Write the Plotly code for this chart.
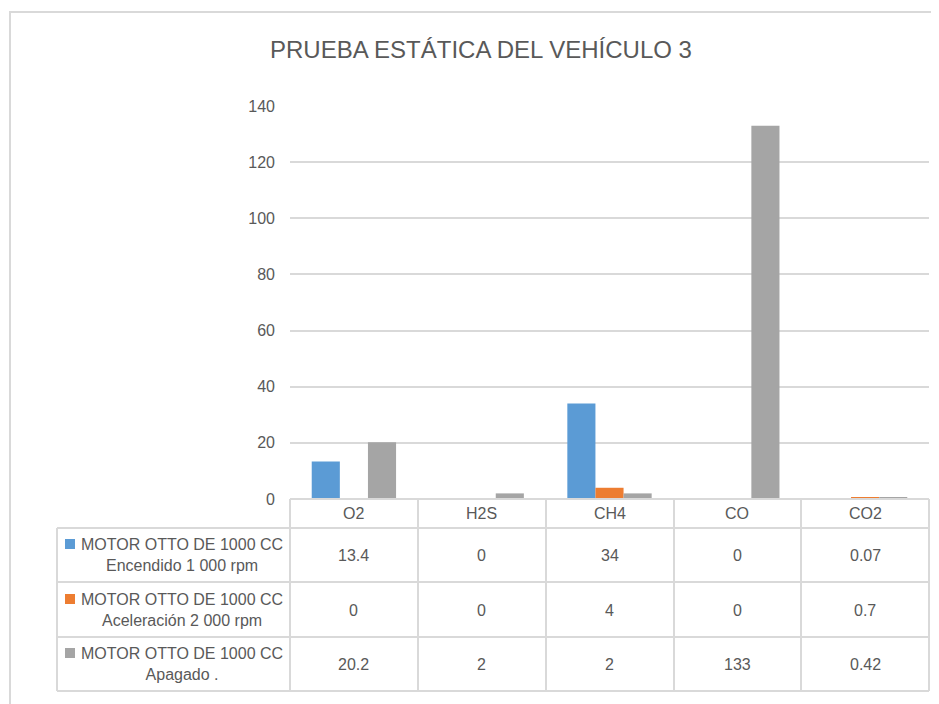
import plotly.graph_objects as go

# Data -
gases = ["O2", "H2S", "CH4", "CO", "CO2"]
series_names = [
    "MOTOR OTTO DE 1000 CC<br>Encendido 1 000 rpm",
    "MOTOR OTTO DE 1000 CC<br>Aceleración 2 000 rpm",
    "MOTOR OTTO DE 1000 CC<br>Apagado .",
]
encendido = [13.4, 0, 34, 0, 0.07]
aceleracion = [0, 0, 4, 0, 0.7]
apagado = [20.2, 2, 2, 133, 0.42]
colors = ["#5B9BD5", "#ED7D31", "#A5A5A5"]
y_ticks = [0, 20, 40, 60, 80, 100, 120, 140]

W, H = 939, 704
OFF = 8  # page body margin
FONT = "Liberation Sans"
TXT = "#595959"
LINE = "#D9D9D9"


def px(x):
    return (x - OFF) / W


def py(y):
    return 1 - (y - OFF) / H


fig = go.Figure()
for name, vals, c in zip(series_names, [encendido, aceleracion, apagado], colors):
    fig.add_trace(go.Bar(x=gases, y=vals, name=name, marker=dict(color=c, line=dict(width=0))))

# table geometry (screen pixels)
plot_l, plot_r = 290, 929
tab_l = 57
row_lines = [528, 582, 637, 691]
col_lines = [290, 418, 546, 674, 801, 929]


def hline(x0, x1, y):
    return dict(type="line", xref="paper", yref="paper", x0=px(x0), x1=px(x1), y0=py(y), y1=py(y),
                line=dict(color=LINE, width=2))


def vline(x, y0, y1):
    return dict(type="line", xref="paper", yref="paper", x0=px(x), x1=px(x), y0=py(y0), y1=py(y1),
                line=dict(color=LINE, width=2))


shapes = []
# outer chart border
shapes.append(dict(type="rect", xref="paper", yref="paper", x0=px(10), x1=px(990), y0=py(12), y1=py(760),
                   line=dict(color=LINE, width=2)))
shapes.append(hline(plot_l, plot_r, 499))
for r in row_lines:
    shapes.append(hline(tab_l, plot_r, r))
shapes.append(vline(tab_l, 528, 691))
for c in col_lines:
    shapes.append(vline(c, 499, 691))

annotations = []
for g in gases:
    annotations.append(dict(x=g, xref="x", y=py(513), yref="paper", text=g, showarrow=False,
                            xanchor="center", yanchor="middle",
                            font=dict(family=FONT, size=16, color=TXT)))
row_centers = [555, 610, 664]
for i, (name, vals, c) in enumerate(zip(series_names, [encendido, aceleracion, apagado], colors)):
    yc = row_centers[i]
    for g, v in zip(gases, vals):
        annotations.append(dict(x=g, xref="x", y=py(yc), yref="paper", text=str(v), showarrow=False,
                                xanchor="center", yanchor="middle",
                                font=dict(family=FONT, size=16, color=TXT)))
    annotations.append(dict(x=px(182), xref="paper", y=py(yc), yref="paper", text=name, showarrow=False,
                            xanchor="center", yanchor="middle", align="center",
                            font=dict(family=FONT, size=16, color=TXT)))
    shapes.append(dict(type="rect", xref="paper", yref="paper", x0=px(65), x1=px(75),
                       y0=py(yc - 6), y1=py(yc - 16), fillcolor=c, line=dict(width=0)))

fig.update_layout(
    width=W, height=H,
    margin=dict(l=0, r=0, t=0, b=0, autoexpand=False),
    paper_bgcolor="white", plot_bgcolor="white",
    title=dict(text="PRUEBA ESTÁTICA DEL VEHÍCULO 3", x=px(481), xanchor="center", y=py(50), yanchor="middle",
               automargin=False, font=dict(family=FONT, size=24, color=TXT)),
    barmode="group", bargap=0.34, bargroupgap=0,
    showlegend=False,
    xaxis=dict(domain=[px(plot_l), px(plot_r)], showticklabels=False, showgrid=False, zeroline=False,
               showline=False, automargin=False),
    yaxis=dict(domain=[py(499), py(106)], range=[0, 140], tickvals=y_ticks, showgrid=True, gridcolor=LINE,
               gridwidth=2, zeroline=False, showline=False, ticklabelstandoff=14, automargin=False,
               tickfont=dict(family=FONT, size=16, color=TXT)),
    shapes=shapes,
    annotations=annotations,
    hovermode=False,
)

fig.write_html("out.html")
